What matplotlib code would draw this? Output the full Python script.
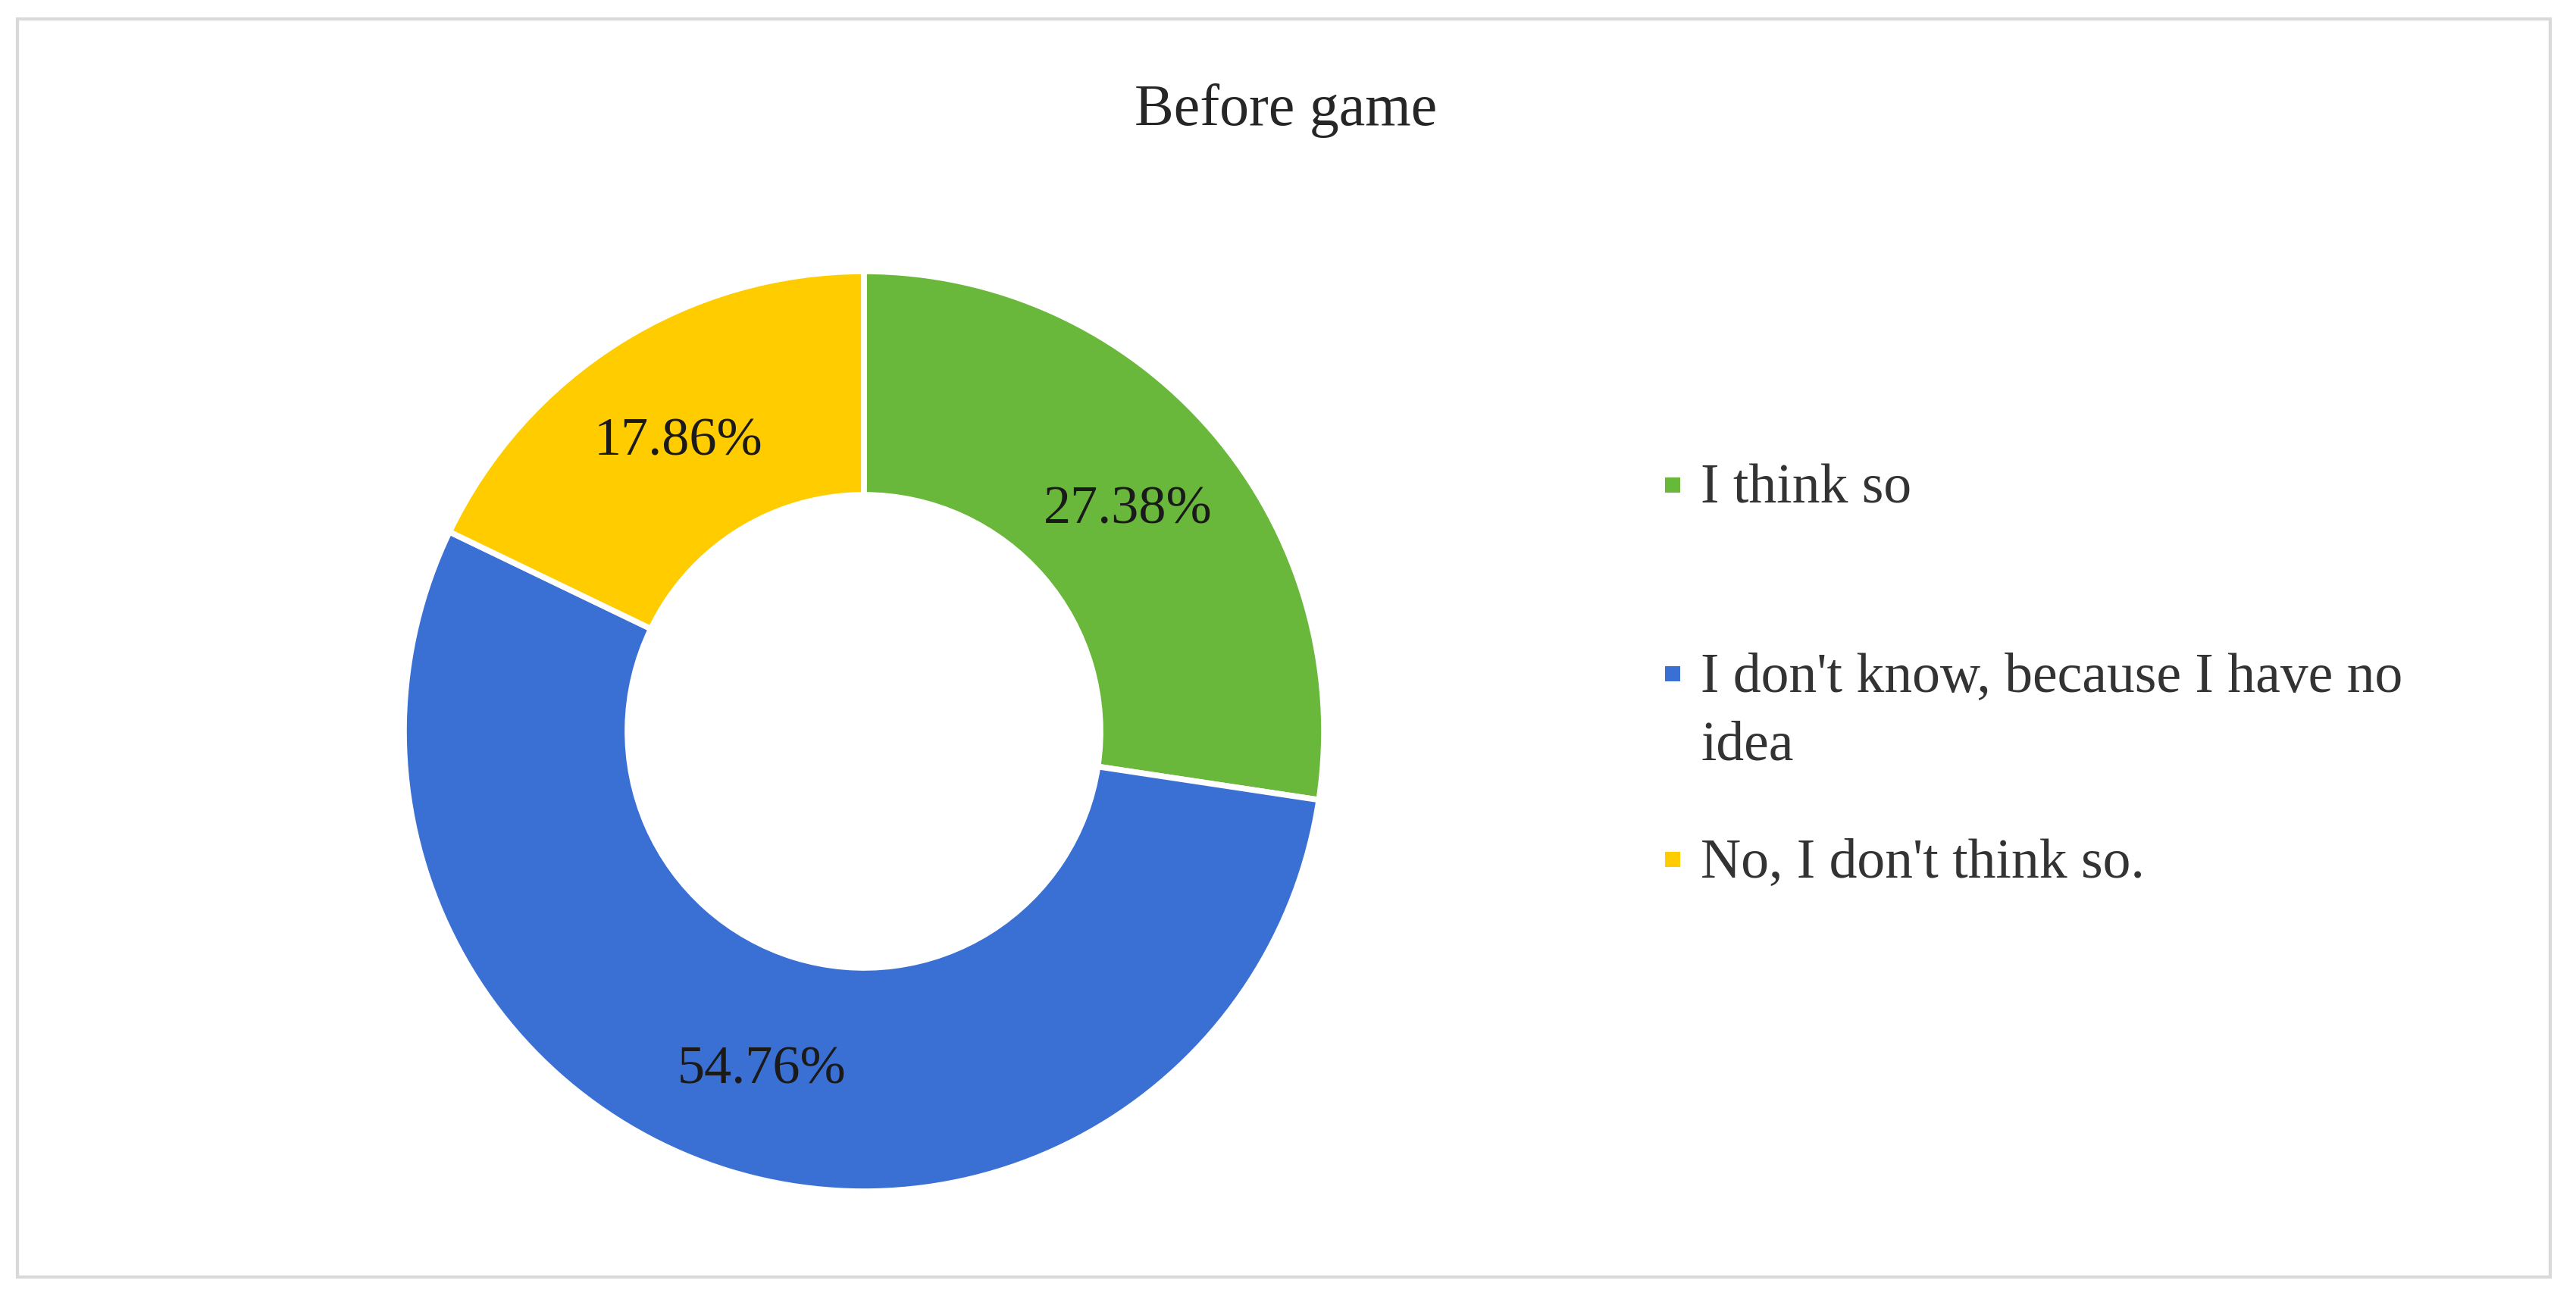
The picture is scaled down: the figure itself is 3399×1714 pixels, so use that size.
import matplotlib
matplotlib.use("Agg")
import matplotlib.pyplot as plt
from matplotlib.patches import Rectangle

# data
categories = ["I think so", "I don't know, because I have no\nidea", "No, I don't think so."]
shares = [27.38, 54.76, 17.86]
colors = ["#6AB83B", "#3A6FD3", "#FFCC00"]
title = "Before game"

W, H = 3399, 1714
fig = plt.figure(figsize=(W / 100, H / 100), dpi=100)
plt.rcParams["font.family"] = ["Liberation Serif", "DejaVu Serif"]

# outer frame
fig.patches.append(Rectangle((23 / W, 1 - 1685 / H), 3342 / W, 1660 / H,
                             transform=fig.transFigure, fill=False,
                             edgecolor="#d9d9d9", linewidth=3))

# donut: centre (1140, 965) px, outer radius 607 px
cx, cy, r = 1140, 965, 607
half = r * 1.07
ax = fig.add_axes([(cx - half) / W, (H - cy - half) / H, 2 * half / W, 2 * half / H])
wedges, _, autotexts = ax.pie(
    shares, colors=colors, startangle=90, counterclock=False, radius=1,
    autopct=lambda p: f"{p:.2f}%", pctdistance=0.757,
    wedgeprops=dict(width=0.486, edgecolor="white", linewidth=5.5),
    textprops=dict(fontsize=52, color="#1a1a1a"))
for t in autotexts:
    t.set_va("center_baseline")
ax.set_xlim(-1.07, 1.07); ax.set_ylim(-1.07, 1.07)
ax.set_aspect("equal"); ax.axis("off")

fig.text(1697 / W, 1 - 146 / H, title, ha="center", va="center",
         fontsize=56, color="#262626")

# legend, laid out by hand so the marker sits on the first line
leg_y = [640, 889, 1134]
for lab, col, y in zip(categories, colors, leg_y):
    s = 20
    fig.patches.append(Rectangle(((2207 - s / 2) / W, 1 - (y + s / 2) / H), s / W, s / H,
                                 transform=fig.transFigure, facecolor=col, edgecolor="none"))
    fig.text(2244 / W, 1 - (y - 28) / H, lab, ha="left", va="top",
             fontsize=53, color="#333333", linespacing=1.43)

fig.savefig("out.png", dpi=100, facecolor="white")
